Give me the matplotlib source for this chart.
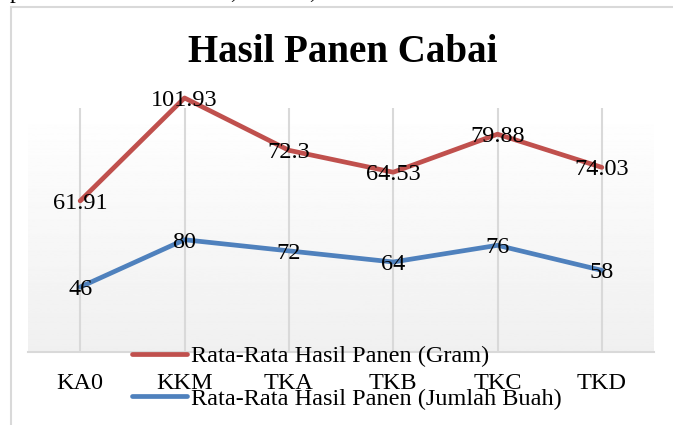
import numpy as np
import matplotlib
matplotlib.use("Agg")
from matplotlib import pyplot as plt
from matplotlib.patches import Rectangle

plt.rcParams['font.family'] = ['Liberation Serif', 'DejaVu Serif']

# data
categories = ["KA0", "KKM", "TKA", "TKB", "TKC", "TKD"]
jumlah_buah = [46, 80, 72, 64, 76, 58]
gram = [61.91, 101.93, 72.3, 64.53, 79.88, 74.03]
gram_labels = ["61.91", "101.93", "72.3", "64.53", "79.88", "74.03"]
series_names = ["Rata-Rata Hasil Panen (Gram)", "Rata-Rata Hasil Panen (Jumlah Buah)"]

RED = "#C0504D"
BLUE = "#4F81BD"
GRID = "#D9D9D9"

W, H = 673, 425
fig = plt.figure(figsize=(W / 100, H / 100), dpi=100)

# chart border (only left and top show in the crop)
fig.patches.append(Rectangle((11 / W, -0.1), 1.2, 1 - 7 / H + 0.1, transform=fig.transFigure,
                             fill=False, edgecolor=GRID, linewidth=1.5, zorder=0))

# clipped text from the page above the chart
for px, s in [(10, "p"), (230, ","), (309, ",")]:
    fig.text(px / W, 1 + 2 / H, s, fontsize=17, va="baseline", ha="left")

ax = fig.add_axes([28 / W, (H - 352) / H, 626 / W, 244 / H])
x = np.arange(len(categories))
stacked = np.array(jumlah_buah) + np.array(gram)

# gradient background of the plot area
grad = np.linspace(1.0, 0.94, 256).reshape(-1, 1)
ax.imshow(grad, cmap="gray", vmin=0, vmax=1, aspect="auto",
          extent=(-0.5, 5.5, -0.7, 174.7), zorder=0, origin="upper")

ax.set_xlim(-0.5, 5.5)
ax.set_ylim(-0.7, 174.7)

for xi in x:
    ax.axvline(xi, color=GRID, linewidth=1.5, zorder=1)

l1, = ax.plot(x, stacked, color=RED, linewidth=3.4, solid_capstyle="round", zorder=3, clip_on=False)
l2, = ax.plot(x, jumlah_buah, color=BLUE, linewidth=3.4, solid_capstyle="round", zorder=3, clip_on=False)

for xi, yv, lab in zip(x, stacked, gram_labels):
    ax.text(xi, yv, lab, ha="center", va="center_baseline", fontsize=17.5, zorder=4)
for xi, yv in zip(x, jumlah_buah):
    ax.text(xi, yv, str(yv), ha="center", va="center_baseline", fontsize=17.5, zorder=4)

for s in ["top", "right", "left"]:
    ax.spines[s].set_visible(False)
ax.spines["bottom"].set_color(GRID)
ax.spines["bottom"].set_linewidth(1.5)
ax.set_yticks([])
ax.set_xticks(x)
ax.set_xticklabels(categories, fontsize=17.5)
ax.tick_params(axis="x", length=0, pad=15)

fig.text(343 / W, 1 - 52 / H, "Hasil Panen Cabai", ha="center", va="center",
         fontsize=28, fontweight="bold")

fig.legend([l1, l2], series_names, loc="upper left", bbox_to_anchor=(132 / W, 1 - 345 / H),
           frameon=False, fontsize=17.5, handlelength=2.25, handletextpad=0.17,
           labelspacing=0.85, borderpad=0, borderaxespad=0)

fig.savefig("out.png", dpi=100)
